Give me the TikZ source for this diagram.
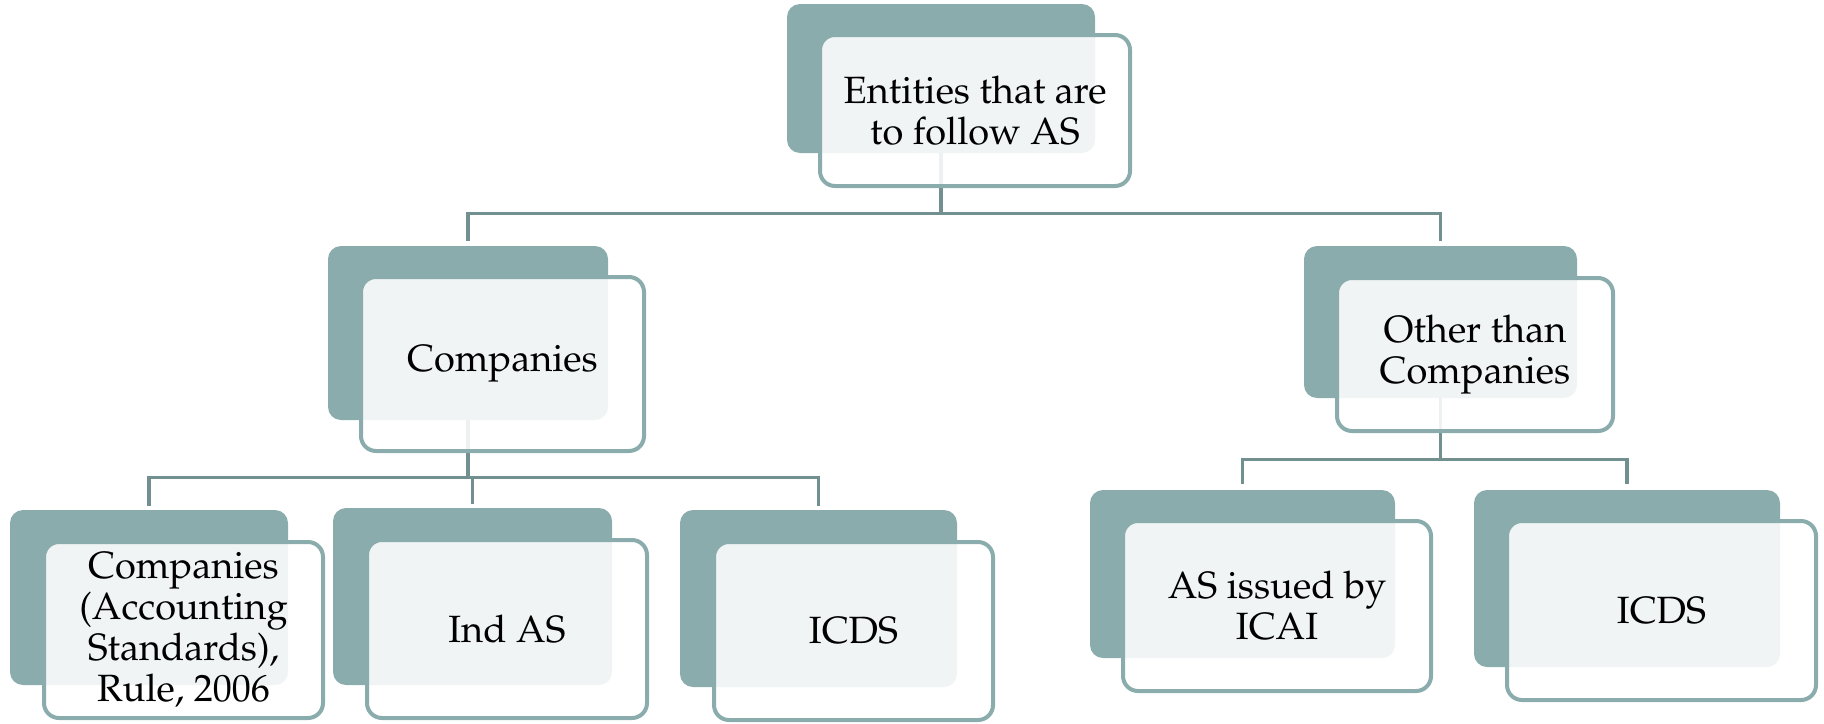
\documentclass[tikz,border=0pt]{standalone}
\usepackage[T1]{fontenc}
\usepackage{mathpazo}
\definecolor{cardteal}{HTML}{8AACAD}
\definecolor{linkteal}{HTML}{72908F}
\begin{document}
\begin{tikzpicture}[x=0.5pt, y=-0.5pt,
    backcard/.style={fill=cardteal, rounded corners=6.5pt, inner sep=0pt},
    frontcard/.style={draw=cardteal, line width=2pt, fill=white, fill opacity=0.88, text opacity=1,
        rounded corners=7.5pt, inner sep=0pt, align=center, font=\fontsize{19}{20.5}\selectfont},
    link/.style={draw=linkteal, line width=1.8pt}]
    \useasboundingbox (0,0) rectangle (1824,723);

    % dark cards behind
    \node[backcard, minimum width=154pt, minimum height=74.5pt] (top) at (941,78.5) {};
    \node[backcard, minimum width=140pt, minimum height=87pt] (comp) at (468,333) {};
    \node[backcard, minimum width=136.5pt, minimum height=76pt] (other) at (1440.5,322) {};
    \node[backcard, minimum width=139pt, minimum height=87.5pt] (rule) at (149,597.5) {};
    \node[backcard, minimum width=139.5pt, minimum height=88.5pt] (ind) at (472.5,596.5) {};
    \node[backcard, minimum width=138.5pt, minimum height=88.5pt] (icds) at (818.5,598.5) {};
    \node[backcard, minimum width=152.5pt, minimum height=84pt] (icai) at (1242.5,574) {};
    \node[backcard, minimum width=153pt, minimum height=88.5pt] (icdsb) at (1627,578.5) {};

    % connectors
    \draw[link] (top.south) -- ++(0,60) coordinate (j1);
    \foreach \c in {comp,other} \draw[link, shorten >=2.5pt] (j1) -| (\c.north);
    \draw[link] (comp.south) -- ++(0,57) coordinate (j2);
    \foreach \c in {rule,ind,icds} \draw[link, shorten >=2pt] (j2) -| (\c.north);
    \draw[link] (other.south) -- ++(0,61) coordinate (j3);
    \foreach \c in {icai,icdsb} \draw[link, shorten >=3pt] (j3) -| (\c.north);

    % light cards with the texts
    \node[frontcard, minimum width=155pt, minimum height=75.5pt] (top-f) at (975,110.5) {Entities that are\\to follow AS};
    \node[frontcard, minimum width=141.5pt, minimum height=87pt] (comp-f) at (502.5,364) {Companies};
    \node[frontcard, minimum width=138pt, minimum height=76.5pt] (other-f) at (1475,354.5) {Other than\\Companies};
    \node[frontcard, minimum width=139.5pt, minimum height=88pt] (rule-f) at (183.5,630) {Companies\\(Accounting\\Standards),\\Rule, 2006};
    \node[frontcard, minimum width=140pt, minimum height=89pt] (ind-f) at (507,629) {Ind AS};
    \node[frontcard, minimum width=139.5pt, minimum height=89pt] (icds-f) at (853.5,631) {ICDS};
    \node[frontcard, minimum width=154pt, minimum height=85pt] (icai-f) at (1277,606) {AS issued by\\ICAI};
    \node[frontcard, minimum width=154.5pt, minimum height=89.5pt] (icdsb-f) at (1661.5,610.5) {ICDS};
\end{tikzpicture}
\end{document}
